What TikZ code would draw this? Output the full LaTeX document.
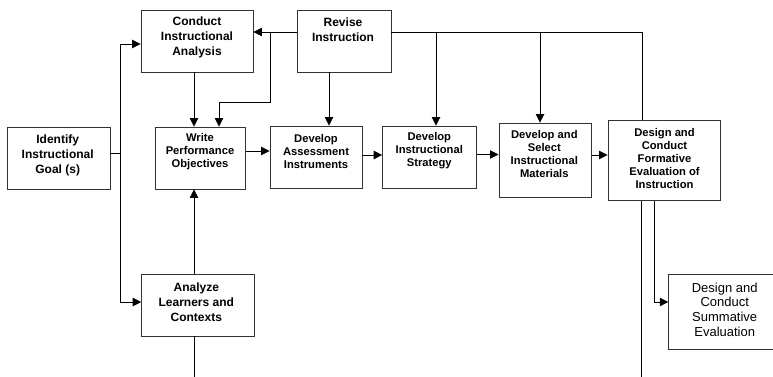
\documentclass[tikz,border=0pt]{standalone}
\usepackage{fontspec}
\setmainfont{Liberation Sans}
\usetikzlibrary{arrows.meta}

\tikzset{
  box/.style={draw=black!80, line width=0.9pt, rectangle, inner sep=0pt},
  lbl/.style={align=center, inner sep=0pt, font=\bfseries\fontsize{12}{15}\selectfont},
  lbls/.style={align=center, inner sep=0pt, font=\bfseries\fontsize{11.2}{13}\selectfont},
  wire/.style={draw=black, line width=0.8pt},
  arr/.style={wire, -{Triangle[length=8.5pt, width=8.5pt]}},
}

\begin{document}
\begin{tikzpicture}[x=1pt, y=-1pt]
\useasboundingbox (0,0) rectangle (773,377);
\clip (0,0) rectangle (773,377);
\fill[white] (0,0) rectangle (773,377);

% boxes
\node[box, minimum width=112pt, minimum height=62pt] (conduct) at (197,41) {};
\node[box, minimum width=94pt,  minimum height=62pt] (revise)  at (344,41) {};
\node[box, minimum width=103pt, minimum height=62pt] (goal)    at (58.5,158) {};
\node[box, minimum width=90.5pt, minimum height=62pt] (write)  at (200.25,158) {};
\node[box, minimum width=92pt,  minimum height=62pt] (assess)  at (316,157) {};
\node[box, minimum width=94pt,  minimum height=62pt] (strat)   at (429.6,157) {};
\node[box, minimum width=92.5pt, minimum height=74pt] (mater)  at (545.2,160) {};
\node[box, minimum width=112pt, minimum height=80pt] (form)    at (664,160.6) {};
\node[box, minimum width=112.3pt, minimum height=62pt] (learn) at (197.8,305) {};
\node[box, minimum width=114pt, minimum height=75pt] (summ)    at (725.7,311.5) {};

% texts
\node[lbl]  (conduct-t) at (197,37)    {Conduct\\Instructional\\Analysis};
\node[lbl]  (revise-t)  at (343,29.5)  {Revise\\Instruction};
\node[lbl]  (goal-t)    at (57.7,155.5){Identify\\Instructional\\Goal (s)};
\node[lbl]  (learn-t)   at (196.3,302) {Analyze\\Learners and\\Contexts};
\node[lbls] (write-t)   at (200,152)   {Write\\Performance\\Objectives};
\node[lbls] (assess-t)  at (316,151)   {Develop\\Assessment\\Instruments};
\node[lbls] (strat-t)   at (429.3,151) {Develop\\Instructional\\Strategy};
\node[lbls] (mater-t)   at (544.3,154) {Develop and\\Select\\Instructional\\Materials};
\node[lbls] (form-t)    at (664.5,158.3){Design and\\Conduct\\Formative\\Evaluation of\\Instruction};
\node[align=center, inner sep=0pt, font=\fontsize{13}{14.7}\selectfont]
            (summ-t)    at (724.7,309.7){Design and\\Conduct\\Summative\\Evaluation};

% junction points
\coordinate (jL)   at (120,153);
\coordinate (jLt)  at (120,44);
\coordinate (jLb)  at (120,302);
\coordinate (jR)   at (270,32);
\coordinate (jRd)  at (270,102);
\coordinate (jRw)  at (219,102);
\coordinate (top1) at (436,32);
\coordinate (top2) at (540,32);
\coordinate (top3) at (642,32);
\coordinate (fb1)  at (641,377);
\coordinate (fb2)  at (654,302);
\coordinate (lb)   at (194,377);

% goal feeds analysis and learners
\draw[wire] (goal.east |- jL) -- (jL);
\draw[wire] (jLt) -- (jLb);
\draw[arr] (jLt) -- (conduct.west |- jLt);
\draw[arr] (jLb) -- (learn.west |- jLb);

% analysis and learners feed objectives
\draw[arr] (conduct.south -| 194,0) -- (write.north -| 194,0);
\draw[arr] (learn.north -| 194,0) -- (write.south -| 194,0);
\draw[wire] (learn.south -| lb) -- (lb);

% revision loop
\draw[arr] (revise.west |- jR) -- (conduct.east |- jR);
\draw[wire] (jR) -- (jRd) -- (jRw);
\draw[arr] (jRw) -- (write.north -| jRw);
\draw[arr] (revise.south -| 329,0) -- (assess.north -| 329,0);
\draw[wire] (revise.east |- top3) -- (top3) -- (form.north -| top3);
\draw[arr] (top1) -- (strat.north -| top1);
\draw[arr] (top2) -- (mater.north -| top2);

% main chain
\draw[arr] (write.east |- 0,151) -- (assess.west |- 0,151);
\draw[arr] (assess.east |- 0,155) -- (strat.west |- 0,155);
\draw[arr] (strat.east |- 0,154.5) -- (mater.west |- 0,154.5);
\draw[arr] (mater.east |- 0,155) -- (form.west |- 0,155);

% formative evaluation outputs
\draw[wire] (form.south -| fb1) -- (fb1);
\draw[wire] (form.south -| fb2) -- (fb2);
\draw[arr] (fb2) -- (summ.west |- fb2);
\end{tikzpicture}
\end{document}
